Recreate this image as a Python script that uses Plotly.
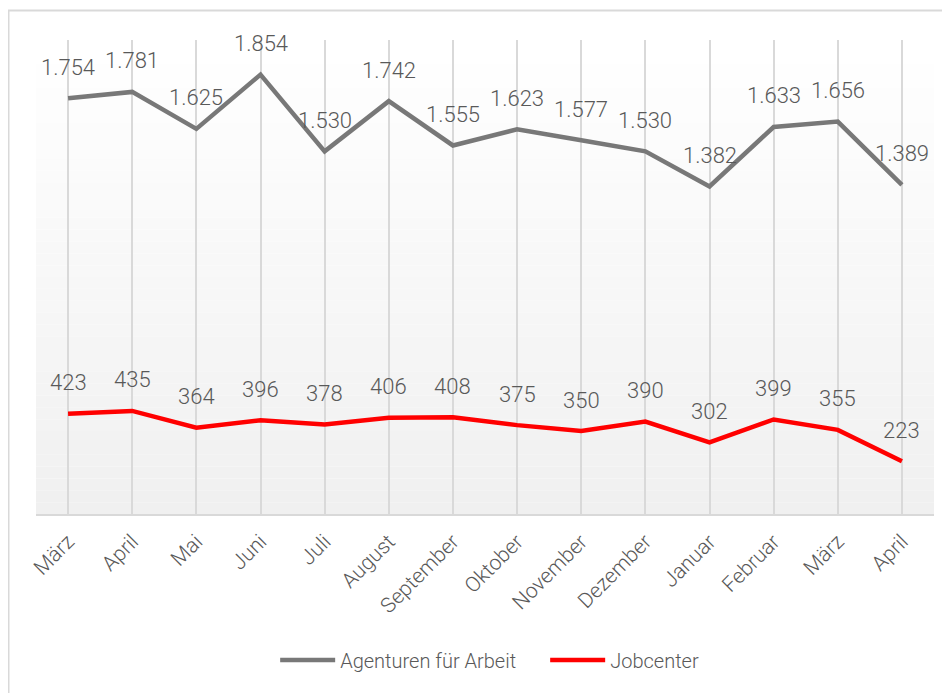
import plotly.graph_objects as go

categories = ["März", "April", "Mai", "Juni", "Juli", "August", "September",
              "Oktober", "November", "Dezember", "Januar", "Februar", "März", "April"]
agenturen = [1754, 1781, 1625, 1854, 1530, 1742, 1555, 1623, 1577, 1530, 1382, 1633, 1656, 1389]
jobcenter = [423, 435, 364, 396, 378, 406, 408, 375, 350, 390, 302, 399, 355, 223]

FONT = "Roboto, sans-serif"
TXT = "#595959"
GRAY = "#787878"
RED = "#ff0000"

x = list(range(len(categories)))

fig = go.Figure()
fig.add_trace(go.Scatter(x=x, y=agenturen, mode="lines", name="Agenturen für Arbeit",
                         line=dict(color=GRAY, width=4.5)))
fig.add_trace(go.Scatter(x=x, y=jobcenter, mode="lines", name="Jobcenter",
                         line=dict(color=RED, width=4.5)))

def fmt(v):
    return f"{v:,}".replace(",", ".")

annotations = []
for series in (agenturen, jobcenter):
    for xi, v in zip(x, series):
        annotations.append(dict(x=xi, y=v, xref="x", yref="y", text=fmt(v),
                                showarrow=False, yshift=31,
                                font=dict(family=FONT, size=22, color=TXT, weight=300)))

shapes = []
n = 40
for i in range(n):
    t = i / (n - 1)
    c = int(round(255 - (255 - 240) * t))
    shapes.append(dict(type="rect", xref="paper", yref="paper",
                       x0=0, x1=1, y0=1 - (i + 1) / n, y1=1 - i / n,
                       fillcolor=f"rgb({c},{c},{c})", line=dict(width=0),
                       layer="below"))
shapes.append(dict(type="rect", xref="paper", yref="paper",
                   x0=(0.5 - 28) / 898, x1=1.2, y0=-0.6, y1=1.062,
                   line=dict(color="#d9d9d9", width=2), fillcolor="rgba(0,0,0,0)",
                   layer="below"))

fig.update_layout(
    width=942, height=685,
    margin=dict(l=28, r=16, t=32, b=179),
    paper_bgcolor="white", plot_bgcolor="white",
    font=dict(family=FONT, size=20, color=TXT, weight=300),
    xaxis=dict(range=[-0.5, len(categories) - 0.5], tickvals=x, ticktext=categories,
               tickangle=-45, showgrid=True, gridcolor="#d9d9d9", gridwidth=1.5,
               showline=True, linecolor="#d9d9d9", linewidth=2, zeroline=False,
               ticks="", ticklabelstandoff=5,
               tickfont=dict(family=FONT, size=21, color=TXT, weight=300)),
    yaxis=dict(range=[0, 2000], visible=False),
    legend=dict(orientation="h", x=0.567, xanchor="center", y=-0.308, yanchor="middle",
                font=dict(family=FONT, size=20, color=TXT, weight=300),
                bgcolor="rgba(0,0,0,0)", itemwidth=55, entrywidth=200),
    showlegend=True,
    annotations=annotations,
    shapes=shapes,
)

fig.write_html("out.html")
